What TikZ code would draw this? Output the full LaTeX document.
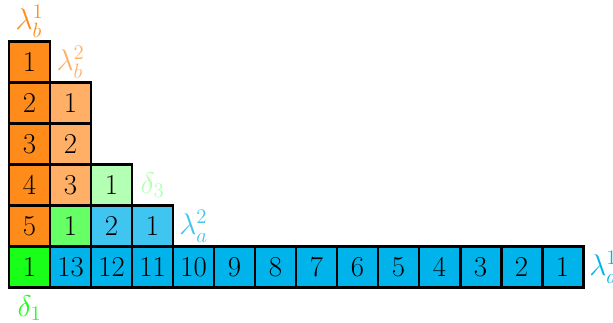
\documentclass[tikz,border=0pt]{standalone}
\usepackage{amsmath,amssymb}
\usepackage{xcolor}
\usepackage{tikz}
\usetikzlibrary{positioning}

\definecolor{orangeD}{RGB}{255,140,26}
\definecolor{orangeL}{RGB}{255,176,102}
\definecolor{greenL}{RGB}{179,255,179}
\definecolor{greenM}{RGB}{102,255,102}
\definecolor{greenB}{RGB}{26,255,26}
\definecolor{blueL}{RGB}{64,196,240}
\definecolor{blueD}{RGB}{0,180,235}

\begin{document}
\begin{tikzpicture}[
    cell/.style={draw, line width=2pt, rectangle, minimum size=1cm, inner sep=0pt, font=\fontsize{20}{24}\selectfont},
    tag/.style={font=\fontsize{20}{24}\selectfont}
]
    \useasboundingbox (-0.22,-0.85) rectangle (14.73,7.02);

    % Bottom row
    \node[cell, fill=greenB] (d1) at (0.5, 0.5) {1};
    \foreach \i in {1,...,13} {
        \pgfmathtruncatemacro{\v}{14-\i}
        \node[cell, fill=blueD] (a\v) at (\i+0.5, 0.5) {\v};
    }

    % First column
    \foreach \i in {1,...,5} {
        \pgfmathtruncatemacro{\v}{6-\i}
        \node[cell, fill=orangeD] (b\v) at (0.5, \i+0.5) {\v};
    }

    % Second column
    \node[cell, fill=greenM] (g1) at (1.5, 1.5) {1};
    \node[cell, fill=orangeL] (c3) at (1.5, 2.5) {3};
    \node[cell, fill=orangeL] (c2) at (1.5, 3.5) {2};
    \node[cell, fill=orangeL] (c1) at (1.5, 4.5) {1};

    % Inner cells
    \node[cell, fill=blueL] (e2) at (2.5, 1.5) {2};
    \node[cell, fill=blueL] (e1) at (3.5, 1.5) {1};
    \node[cell, fill=greenL] (f1) at (2.5, 2.5) {1};

    % Labels
    \node[tag, text=orangeD] (lb1) at (0.5, 6.5) {$\lambda_b^1$};
    \node[tag, text=orangeL] (lb2) at (1.5, 5.5) {$\lambda_b^2$};
    \node[tag, text=greenL] (dl3) at (3.5, 2.5) {$\delta_3$};
    \node[tag, text=blueL] (la2) at (4.5, 1.5) {$\lambda_a^2$};
    \node[tag, text=blueD] (la1) at (14.5, 0.5) {$\lambda_a^1$};
    \node[tag, text=greenB] (dl1) at (0.5, -0.5) {$\delta_1$};

\end{tikzpicture}
\end{document}
